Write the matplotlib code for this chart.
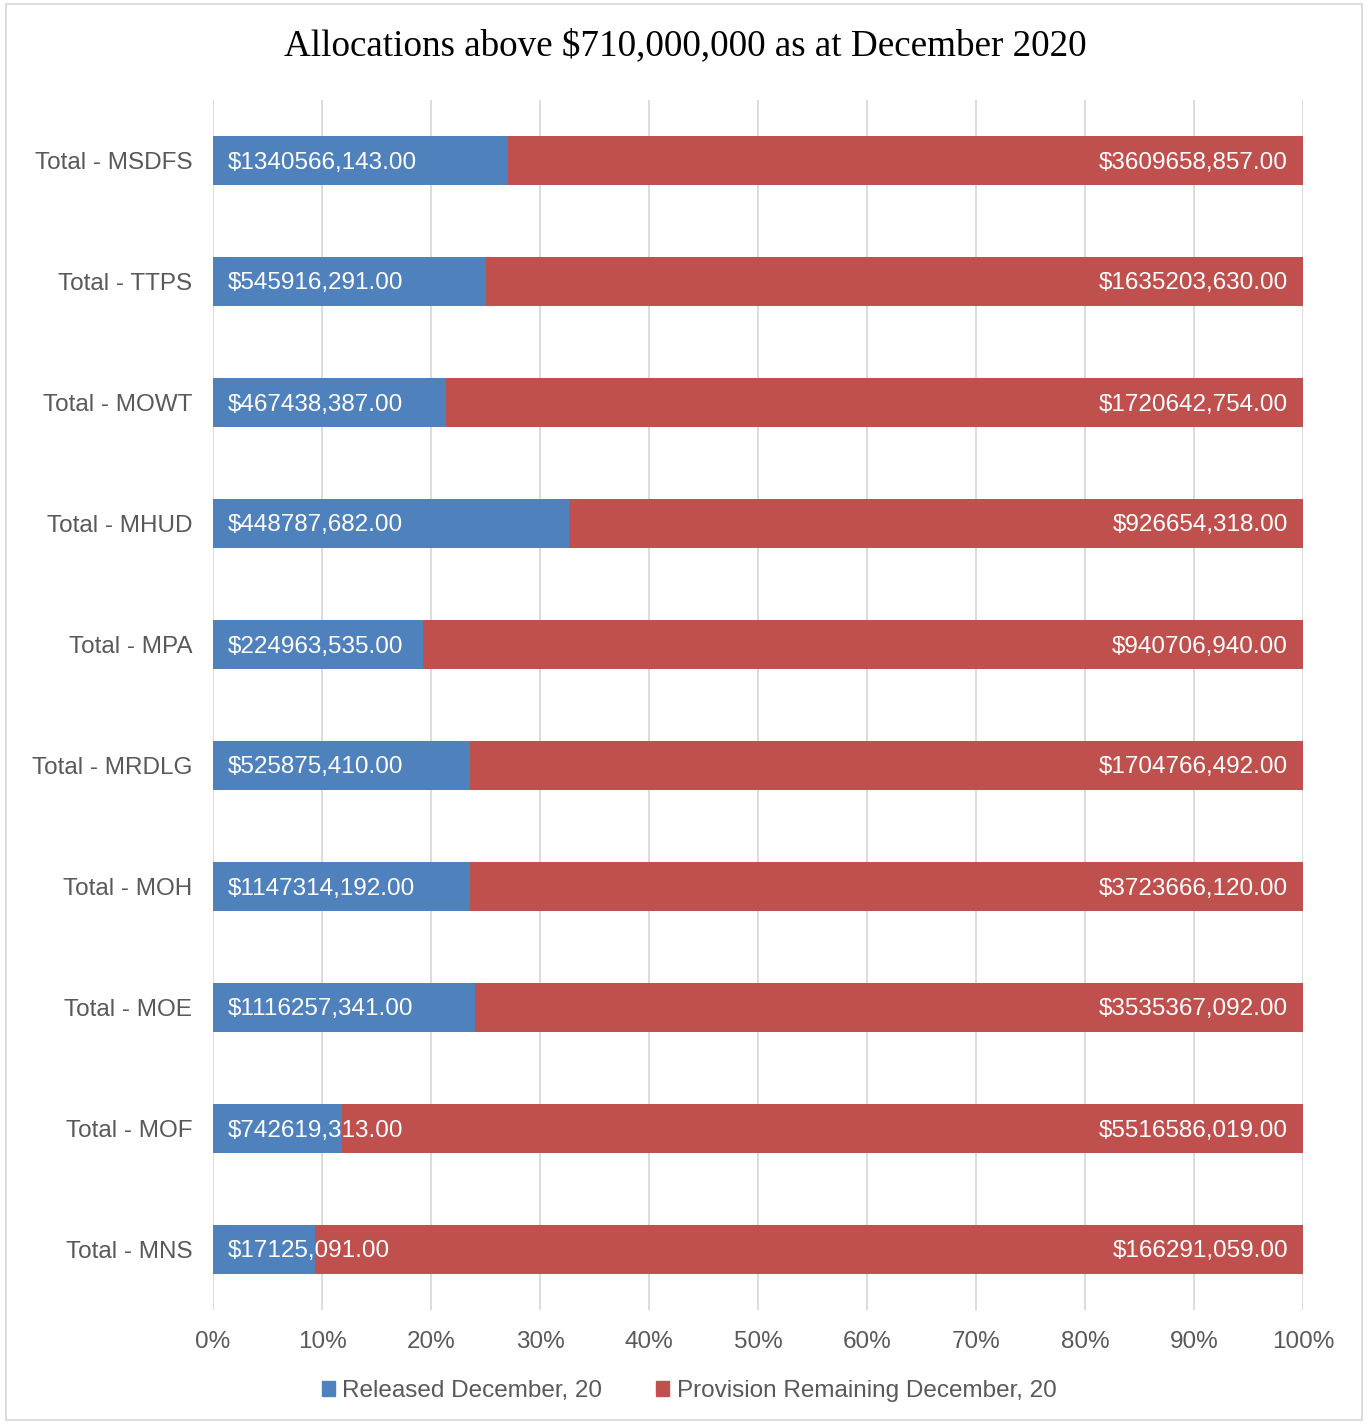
import numpy as np
import matplotlib.pyplot as plt
from matplotlib.patches import Rectangle, Patch

# categories from top to bottom
ministries = ["Total - MSDFS", "Total - TTPS", "Total - MOWT", "Total - MHUD", "Total - MPA",
              "Total - MRDLG", "Total - MOH", "Total - MOE", "Total - MOF", "Total - MNS"]
released = [1340566143, 545916291, 467438387, 448787682, 224963535,
            525875410, 1147314192, 1116257341, 742619313, 17125091]
remaining = [3609658857, 1635203630, 1720642754, 926654318, 940706940,
             1704766492, 3723666120, 3535367092, 5516586019, 166291059]

blue = "#4F81BD"
red = "#C0504D"
grey = "#595959"
fs = 17.5


def money(v):
    # labels in the source only carry the last thousands separator
    return "$%d,%03d.00" % (v // 1000, v % 1000)


plt.rcParams['font.family'] = ['Liberation Sans', 'DejaVu Sans']

fig = plt.figure(figsize=(13.69, 14.24), dpi=100)
ax = fig.add_axes([213 / 1369, 1 - 1310 / 1424, 1090 / 1369, 1210 / 1424])

rel = np.array(released, dtype=float)
rem = np.array(remaining, dtype=float)
tot = rel + rem
p_rel = rel / tot * 100
p_rem = rem / tot * 100
y = np.arange(len(ministries))

ax.barh(y, p_rel, height=0.4, color=blue, zorder=3)
ax.barh(y, p_rem, left=p_rel, height=0.4, color=red, zorder=3)

for i in range(len(ministries)):
    ax.annotate(money(released[i]), (0, y[i]), xytext=(15, -2), textcoords='offset pixels',
                ha='left', va='center', color='white', fontsize=fs, zorder=5)
    ax.annotate(money(remaining[i]), (100, y[i]), xytext=(-15, -2), textcoords='offset pixels',
                ha='right', va='center', color='white', fontsize=fs, zorder=5)

ax.set_xlim(0, 100)
ax.set_ylim(len(ministries) - 0.5, -0.5)
ax.set_xticks(np.arange(0, 101, 10))
ax.set_xticklabels(["%d%%" % t for t in range(0, 101, 10)])
ax.set_yticks(y)
ax.set_yticklabels(ministries)
ax.tick_params(axis='both', length=0, labelsize=fs, colors=grey)
ax.tick_params(axis='x', pad=15)
ax.tick_params(axis='y', pad=15)
ax.grid(axis='x', color='#D9D9D9', linewidth=1.3, zorder=0)
for s in ax.spines.values():
    s.set_visible(False)

fig.text(685 / 1369, 1 - 46 / 1424, "Allocations above $710,000,000 as at December 2020",
         ha='center', va='center', fontsize=26.7, family=['Liberation Serif', 'DejaVu Serif'])

handles = [Patch(color=blue), Patch(color=red)]
fig.legend(handles, ["Released December, 20", "Provision Remaining December, 20"],
           loc='center', bbox_to_anchor=(689 / 1369, 1 - 1391 / 1424), ncol=2, frameon=False,
           fontsize=fs, labelcolor=grey, handlelength=0.55, handleheight=0.55,
           handletextpad=0.3, columnspacing=2.2)

fig.patches.append(Rectangle((6 / 1369, 4 / 1424), 1356 / 1369, 1416 / 1424,
                             transform=fig.transFigure, fill=False, edgecolor='#D9D9D9', linewidth=1.3))

fig.savefig("out.png", dpi=100)
